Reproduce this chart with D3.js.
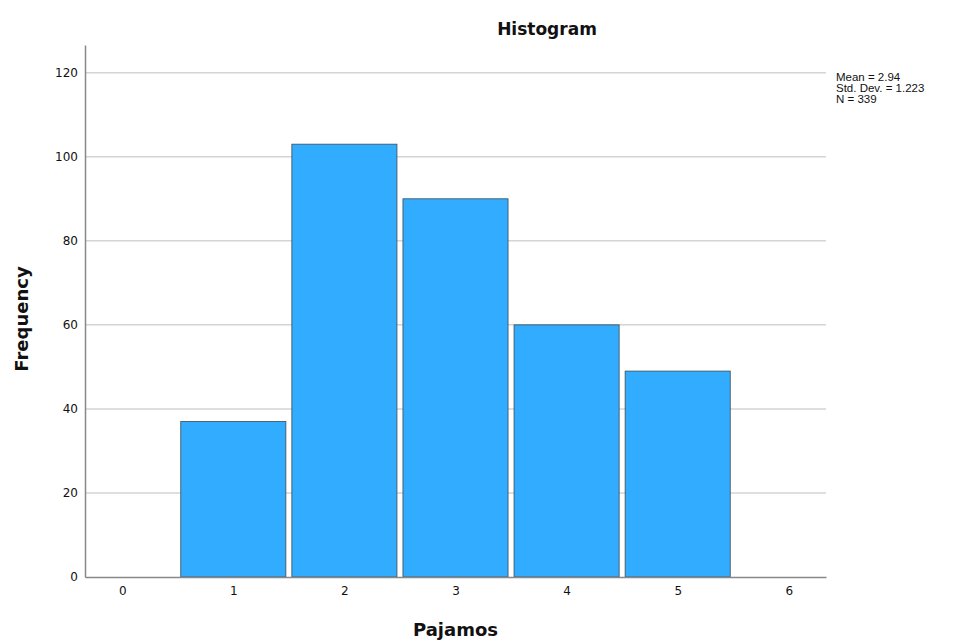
<!DOCTYPE html>
<html>
<head>
<meta charset="utf-8">
<script src="https://cdn.jsdelivr.net/npm/d3@7"></script>
<style>
  body { margin: 0; background: #fff; }
  text { font-family: "DejaVu Sans", Verdana, sans-serif; fill: #111; }
</style>
</head>
<body>
<div id="chart"></div>
<script>
// histogram data
const binCenters = [1, 2, 3, 4, 5];
const frequencies = [37, 103, 90, 60, 49];
const yTicks = [0, 20, 40, 60, 80, 100, 120];
const xTicks = [0, 1, 2, 3, 4, 5, 6];
const statsLines = ["Mean = 2.94", "Std. Dev. = 1.223", "N = 339"];

const width = 961, height = 642;
const margin = { top: 45, right: 135, bottom: 65, left: 85 };
const innerW = width - margin.left - margin.right;
const innerH = height - margin.top - margin.bottom;

const svg = d3.select("#chart").append("svg")
    .attr("width", width)
    .attr("height", height);

const g = svg.append("g")
    .attr("transform", `translate(${margin.left}, ${margin.top})`);

const x = d3.scaleLinear().domain([-0.335, 6.335]).range([0, innerW]);
const y = d3.scaleLinear().domain([0, 126.6]).range([innerH, 0]);

// gridlines
g.selectAll(".grid")
    .data(yTicks.filter(d => d > 0))
    .enter().append("line")
    .attr("x1", 0).attr("x2", innerW)
    .attr("y1", d => y(d)).attr("y2", d => y(d))
    .attr("stroke", "#d4d4d4")
    .attr("stroke-width", 1.5);

// bars
const inset = 3;
g.selectAll(".bar")
    .data(binCenters)
    .enter().append("rect")
    .attr("x", (d) => x(d - 0.5) + inset)
    .attr("width", () => x(1) - x(0) - 2 * inset)
    .attr("y", (d, i) => y(frequencies[i]))
    .attr("height", (d, i) => y(0) - y(frequencies[i]))
    .attr("fill", "#31acfe")
    .attr("stroke", "#3c4a55")
    .attr("stroke-width", 0.8);

// axes
const yAxis = d3.axisLeft(y).tickValues(yTicks).tickSize(0).tickPadding(7).tickFormat(d3.format("d"));
const yg = g.append("g").call(yAxis);
yg.select(".domain").attr("stroke", "#888").attr("stroke-width", 1.5);
yg.selectAll("text").style("font-size", "12px");

const xAxis = d3.axisBottom(x).tickValues(xTicks).tickSize(0).tickPadding(9).tickFormat(d3.format("d"));
const xg = g.append("g").attr("transform", `translate(0, ${innerH})`).call(xAxis);
xg.select(".domain").attr("stroke", "#888").attr("stroke-width", 1.5);
xg.selectAll("text").style("font-size", "12px");

// titles
svg.append("text")
    .attr("x", 547).attr("y", 35)
    .attr("text-anchor", "middle")
    .style("font-size", "17px").style("font-weight", "bold")
    .text("Histogram");

svg.append("text")
    .attr("x", margin.left + innerW / 2).attr("y", 636)
    .attr("text-anchor", "middle")
    .style("font-size", "18px").style("font-weight", "bold")
    .text("Pajamos");

svg.append("text")
    .attr("transform", `translate(28, ${margin.top + innerH / 2 + 8}) rotate(-90)`)
    .attr("text-anchor", "middle")
    .style("font-size", "18px").style("font-weight", "bold")
    .text("Frequency");

// stats box
svg.append("g").selectAll("text")
    .data(statsLines)
    .enter().append("text")
    .attr("x", 836)
    .attr("y", (d, i) => 81 + i * 11)
    .style("font-family", "'Liberation Sans', Arial, sans-serif")
    .style("font-size", "11.5px")
    .text(d => d);
</script>
</body>
</html>
